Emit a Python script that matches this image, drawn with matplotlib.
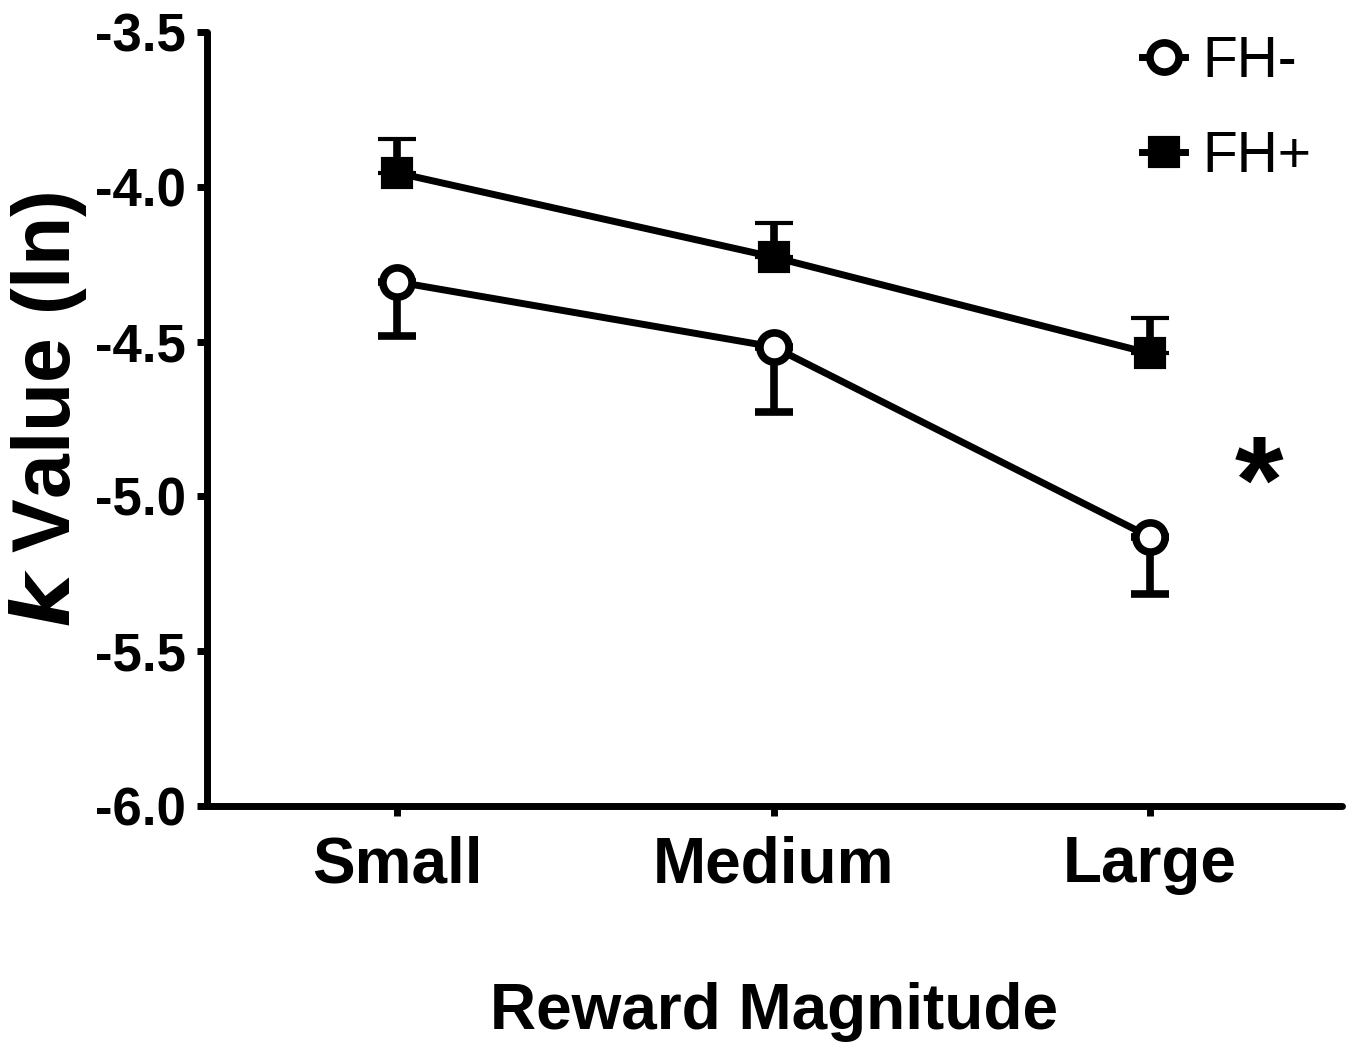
import matplotlib
matplotlib.use("Agg")
import matplotlib.pyplot as plt
from matplotlib.lines import Line2D

plt.rcParams['font.family'] = ['Liberation Sans', 'DejaVu Sans']

categories = ["Small", "Medium", "Large"]
fh_minus = [-4.307, -4.517, -5.131]
fh_minus_err_down = [0.175, 0.210, 0.184]
fh_plus = [-3.955, -4.227, -4.538]
fh_plus_err_up = [0.110, 0.110, 0.115]
yticks = [-3.5, -4.0, -4.5, -5.0, -5.5, -6.0]

fig = plt.figure(figsize=(13.52, 10.49), dpi=100)
ax = fig.add_axes([0.1531, 0.2316, 0.9926 - 0.1531, 0.9695 - 0.2316])

x = list(range(len(categories)))
lw = 5

# FH+ (filled squares, upward error bars)
ax.errorbar(x, fh_plus, yerr=[[0] * 3, fh_plus_err_up], color='black', lw=lw,
            marker='s', markersize=20, markerfacecolor='black', markeredgecolor='black',
            markeredgewidth=3, capsize=13.5, capthick=5.5, elinewidth=5.5, zorder=3)
# FH- (open circles, downward error bars)
ax.errorbar(x, fh_minus, yerr=[fh_minus_err_down, [0] * 3], color='black', lw=lw,
            marker='o', markersize=21, markerfacecolor='white', markeredgecolor='black',
            markeredgewidth=5.5, capsize=13.5, capthick=5.5, elinewidth=5.5, zorder=3)

ax.set_xlim(-0.505, 2.51)
ax.set_ylim(-6.0, -3.5)
ax.set_yticks(yticks)
ax.set_yticklabels([f"{v:.1f}" for v in yticks], fontsize=38, fontweight='bold')
ax.set_xticks(x)
ax.set_xticklabels(categories, fontsize=46, fontweight='bold')

for s in ['top', 'right']:
    ax.spines[s].set_visible(False)
for s in ['left', 'bottom']:
    ax.spines[s].set_linewidth(5)
    ax.spines[s].set_capstyle('round')
ax.tick_params(axis='y', length=7, width=5, pad=8)
ax.tick_params(axis='x', length=7, width=5, pad=14)

ax.set_ylabel(r"$\bfit{k}$ Value (ln)", fontsize=58, fontweight='bold')
ax.yaxis.set_label_coords(-0.140, 0.512)
ax.yaxis.label.set_va('center')
ax.set_xlabel("Reward Magnitude", fontsize=46, fontweight='bold')
ax.xaxis.set_label_coords(0.5, -0.266)
ax.xaxis.label.set_va('center')

ax.text(2.29, -4.98, "*", fontsize=90, fontweight='bold', ha='center', va='center')

handles = [
    Line2D([], [], color='black', lw=lw, marker='o', markersize=21, markerfacecolor='white',
           markeredgecolor='black', markeredgewidth=5.5),
    Line2D([], [], color='black', lw=lw, marker='s', markersize=20, markerfacecolor='black',
           markeredgecolor='black', markeredgewidth=3),
]
leg = ax.legend(handles, ["FH-", "FH+"], loc='upper right', bbox_to_anchor=(1.018, 1.062),
                frameon=False, fontsize=41, handlelength=0.75, handletextpad=0.3,
                labelspacing=0.72)

fig.savefig("out.png", dpi=100)
